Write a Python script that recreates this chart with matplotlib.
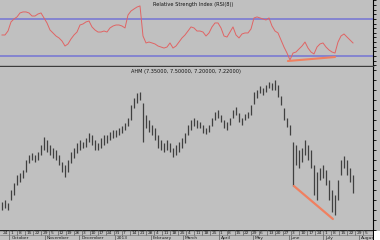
import matplotlib
matplotlib.use("Agg")
import matplotlib.pyplot as plt
from matplotlib.patches import Rectangle
import numpy as np

# ---------------- data ----------------
highs = [9.6, 10.0, 9.4, 12.0, 13.4, 15.0, 15.4, 16.0, 18.0, 19.0, 19.4, 19.0, 19.6, 21.0, 22.6, 22.0,
         21.0, 20.4, 20.0, 19.0, 17.6, 17.0, 18.0, 19.6, 20.4, 21.4, 22.0, 21.6, 22.4, 23.4, 23.0, 22.0,
         21.4, 22.4, 23.0, 23.0, 23.6, 24.0, 24.0, 24.4, 24.8, 25.4, 26.4, 29.0, 30.4, 31.4, 31.6, 29.4,
         27.0, 26.0, 25.0, 24.4, 23.0, 22.0, 21.4, 22.0, 21.4, 20.4, 21.0, 21.6, 22.4, 23.4, 25.0, 26.0,
         26.4, 26.0, 25.6, 25.0, 24.4, 25.0, 26.4, 27.6, 28.0, 27.0, 26.0, 25.6, 26.4, 28.0, 28.6, 27.4,
         26.4, 27.2, 27.6, 29.0, 31.6, 32.0, 32.8, 32.4, 33.0, 33.6, 33.4, 34.0, 33.0, 30.8, 28.4, 26.4,
         25.0, 21.6, 21.0, 20.0, 20.4, 22.0, 21.0, 20.0, 17.0, 15.6, 16.4, 17.0, 16.0, 14.0, 12.0, 11.0,
         14.0, 18.0, 18.8, 18.0, 16.4, 15.0]
lows = [8.0, 8.4, 8.0, 10.0, 11.0, 13.0, 13.6, 14.4, 15.6, 17.4, 18.0, 17.6, 18.0, 19.0, 20.0, 19.6,
        19.0, 18.4, 18.0, 17.0, 15.6, 14.6, 15.6, 17.4, 18.4, 19.4, 20.0, 20.4, 20.6, 21.6, 21.0, 20.0,
        20.0, 20.4, 21.0, 21.4, 22.0, 22.4, 22.6, 23.0, 23.4, 24.0, 24.8, 26.0, 28.4, 29.4, 30.0, 21.6,
        24.4, 23.6, 23.0, 22.0, 20.4, 20.0, 19.6, 20.0, 19.6, 18.6, 19.0, 19.6, 20.4, 21.4, 23.0, 24.0,
        24.8, 24.4, 24.4, 23.4, 23.2, 23.6, 24.8, 26.0, 26.4, 25.6, 24.4, 24.0, 25.0, 26.4, 27.0, 25.6,
        25.0, 26.0, 26.4, 27.0, 29.2, 30.4, 31.4, 31.0, 31.6, 32.4, 32.0, 32.0, 30.6, 29.0, 26.0, 24.6,
        23.0, 12.8, 17.0, 16.4, 17.6, 19.0, 18.0, 16.4, 11.0, 10.0, 14.0, 14.4, 13.0, 10.0, 7.6, 7.0,
        10.0, 15.0, 16.4, 15.0, 13.6, 11.4]
rsi = [52.7, 52.7, 57.0, 66.8, 70.0, 72.2, 76.5, 77.6, 77.6, 76.5, 73.2, 73.2, 75.4, 76.5, 71.1, 65.7,
       58.1, 54.9, 51.6, 49.5, 46.2, 40.8, 43.0, 48.4, 52.7, 55.9, 63.5, 64.6, 66.8, 67.8, 61.4, 58.1,
       55.9, 55.9, 57.0, 55.9, 60.3, 62.4, 63.5, 63.5, 62.4, 60.3, 74.3, 78.6, 80.8, 82.9, 84.1, 51.6,
       44.1, 45.1, 44.1, 43.0, 40.8, 39.7, 38.6, 39.7, 44.1, 38.6, 40.8, 45.1, 49.5, 52.7, 57.0, 61.4,
       60.3, 57.0, 57.0, 55.9, 51.6, 54.9, 61.4, 65.7, 65.7, 60.3, 51.6, 50.5, 55.9, 61.4, 52.7, 49.5,
       53.8, 54.9, 54.9, 59.2, 71.1, 72.2, 71.1, 70.0, 68.9, 71.1, 62.4, 57.0, 54.9, 47.3, 39.7, 33.2,
       25.7, 33.2, 34.3, 37.6, 40.8, 45.1, 38.6, 34.3, 32.2, 39.7, 43.0, 44.1, 39.7, 36.5, 34.3, 33.2,
       45.1, 51.6, 53.8, 50.5, 47.3, 44.1]
rsi_levels = [70, 30]

# divergence trendlines (bar index, value)
rsi_div_x = [95.3, 111.0]
rsi_div_y = [24.6, 28.9]
px_div_x = [97.3, 110.3]
px_div_y = [12.8, 6.2]

week_labels = ["24", "1", "8", "15", "22", "29", "5", "12", "19", "26", "3", "10", "17", "24", "31",
               "7", "14", "21", "28", "4", "11", "18", "25", "4", "11", "18", "25", "1", "8", "15",
               "22", "29", "6", "13", "20", "27", "3", "10", "17", "24", "1", "8", "15", "22", "29", "5"]
month_labels = ["October", "November", "December", "2013", "February", "March", "April", "May",
                "June", "July", "August"]
month_pos = [1.0, 5.43, 9.71, 14.14, 18.57, 22.57, 27.0, 31.29, 35.71, 40.0, 44.43]

rsi_title = "Relative Strength Index (RSI(8))"
px_title = "AHM (7.35000, 7.50000, 7.20000, 7.22000)"

# ---------------- figure ----------------
BG = "#c0c0c0"
W, H = 380, 240
fig = plt.figure(figsize=(W / 100, H / 100), dpi=100, facecolor=BG)

def fx(p):
    return p / W

def fy(p):
    return 1 - p / H

right = 373
ax_rsi = fig.add_axes([0, fy(66), fx(right), 66 / H])
ax_px = fig.add_axes([0, fy(230), fx(right), (230 - 67) / H])
ax_dt = fig.add_axes([0, 0, fx(right), 10 / H])

idx = list(range(len(highs)))
xl = (-2 / 3, (right - 2) / 3)

for ax in (ax_rsi, ax_px, ax_dt):
    ax.set_facecolor(BG)
    for s in ax.spines.values():
        s.set_visible(False)

# RSI panel
ax_rsi.set_xlim(*xl)
ax_rsi.set_ylim(19.2, 90.5)
for lv in rsi_levels:
    ax_rsi.axhline(lv, color="#7474d4", lw=1.1)
ax_rsi.plot(idx, rsi, color="#e06464", lw=0.7)
ax_rsi.plot(rsi_div_x, rsi_div_y, color="#f08060", lw=1.5, solid_capstyle="round")
ax_rsi.text(0.41, 0.97, rsi_title, transform=ax_rsi.transAxes, fontsize=3.6,
            ha="left", va="top", color="#111111")
ax_rsi.spines["bottom"].set_visible(True)
ax_rsi.spines["bottom"].set_color("#3c3c3c")
ax_rsi.spines["bottom"].set_linewidth(1.0)

# price panel
ax_px.set_xlim(*xl)
ax_px.set_ylim(4.0, 36.6)
ax_px.vlines(idx, lows, highs, color="#404040", lw=0.9)
ax_px.plot(px_div_x, px_div_y, color="#f08060", lw=1.6, solid_capstyle="round")
ax_px.text(0.35, 0.985, px_title, transform=ax_px.transAxes, fontsize=3.6,
           ha="left", va="top", color="#111111")

for ax, step in ((ax_rsi, 5), (ax_px, 2)):
    lo, hi = ax.get_ylim()
    ticks = np.arange(np.ceil(lo / step) * step, hi, step)
    ax.set_yticks(ticks)
    ax.set_xticks([])
    ax.yaxis.tick_right()
    ax.tick_params(axis="y", which="both", direction="out", length=2.5, width=0.6,
                   color="black", labelright=False, labelleft=False, right=True, left=False)
    ax.spines["right"].set_visible(True)
    ax.spines["right"].set_color("black")
    ax.spines["right"].set_linewidth(0.8)

# date strip
ax_dt.set_xlim(-2 / 8.05, (right - 2) / 8.05)
ax_dt.set_ylim(0, 2)
ax_dt.set_xticks([])
ax_dt.set_yticks([])
ax_dt.axhline(2, color="#202020", lw=1.0)
ax_dt.axhline(1, color="#808080", lw=0.5)
for k, lab in enumerate(week_labels):
    if k > 0:
        ax_dt.vlines(k - 0.1, 1, 2, color="#606060", lw=0.5)
    ax_dt.text(k + 0.05, 1.5, lab, fontsize=3.2, ha="left", va="center", color="#202020")
for p, lab in zip(month_pos, month_labels):
    ax_dt.vlines(p - 0.1, 0, 1, color="#606060", lw=0.5)
    ax_dt.text(p + 0.15, 0.45, lab, fontsize=3.2, ha="left", va="center", color="#202020")
ax_dt.spines["right"].set_visible(True)
ax_dt.spines["right"].set_color("black")
ax_dt.spines["right"].set_linewidth(0.8)

fig.patches.append(Rectangle((fx(right + 1), 0), fx(W - right - 1), 9 / H,
                             transform=fig.transFigure, facecolor="white", edgecolor="none"))

fig.savefig("out.png", dpi=100, facecolor=BG)
